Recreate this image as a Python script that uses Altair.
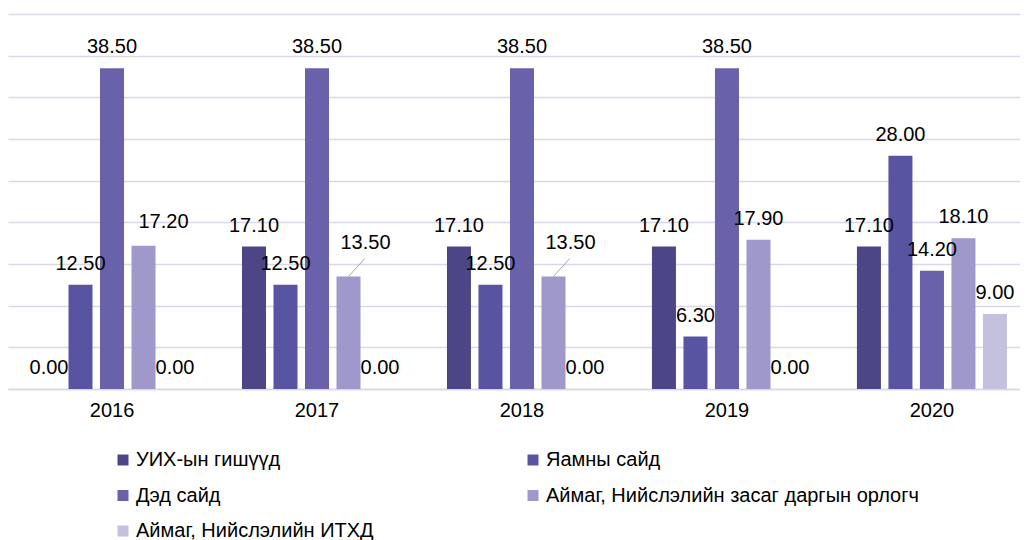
import altair as alt
import pandas as pd

years = ["2016", "2017", "2018", "2019", "2020"]
series = [
    "УИХ-ын гишүүд",
    "Яамны сайд",
    "Дэд сайд",
    "Аймаг, Нийслэлийн засаг даргын орлогч",
    "Аймаг, Нийслэлийн ИТХД",
]
colors = ["#4D4686", "#5954A2", "#6961A9", "#9E99CA", "#C3C1DE"]

v_uikh = [0.0, 17.1, 17.1, 17.1, 17.1]
v_yaam = [12.5, 12.5, 12.5, 6.3, 28.0]
v_ded = [38.5, 38.5, 38.5, 38.5, 14.2]
v_aimag_zd = [17.2, 13.5, 13.5, 17.9, 18.1]
v_aimag_itkhd = [0.0, 0.0, 0.0, 0.0, 9.0]

all_vals = [v_uikh, v_yaam, v_ded, v_aimag_zd, v_aimag_itkhd]
rows = []
for si, (name, vals) in enumerate(zip(series, all_vals)):
    for yi, (yr, v) in enumerate(zip(years, vals)):
        rows.append({"year": yr, "series": name, "s": si, "y": yi, "value": v})
df = pd.DataFrame(rows)

FONT = "Liberation Sans"

x_enc = alt.X(
    "year:N",
    sort=years,
    title=None,
    scale=alt.Scale(paddingInner=0.268, paddingOuter=0.1025, align=0.69),
    axis=alt.Axis(
        labelAngle=0,
        labelFontSize=20,
        labelFont=FONT,
        labelColor="#000000",
        labelPadding=11,
        ticks=False,
        tickSize=0,
        domain=True,
        domainColor="#D9D7E8",
        domainWidth=1.3,
        grid=False,
    ),
)
xoff_enc = alt.XOffset(
    "series:N", sort=series, scale=alt.Scale(paddingInner=0.238, paddingOuter=0)
)
y_enc = alt.Y(
    "value:Q",
    title=None,
    scale=alt.Scale(domain=[0, 45], nice=False),
    axis=alt.Axis(
        values=[0, 5, 10, 15, 20, 25, 30, 35, 40, 45],
        labels=False,
        ticks=False,
        domain=False,
        grid=True,
        gridColor="#D9D7E8",
        gridWidth=1.3,
    ),
)

base = alt.Chart(df)

bars = base.mark_bar().encode(
    x=x_enc,
    xOffset=xoff_enc,
    y=y_enc,
    color=alt.Color(
        "series:N",
        sort=series,
        scale=alt.Scale(domain=series, range=colors),
        legend=alt.Legend(
            title=None,
            orient="none",
            direction="horizontal",
            legendX=105,
            legendY=436,
            columns=2,
            columnPadding=149,
            rowPadding=15.5,
            symbolType="square",
            symbolSize=121,
            symbolStrokeWidth=0,
            labelFont=FONT,
            labelFontSize=20,
            labelColor="#000000",
            labelOffset=3,
            labelLimit=600,
            padding=0,
        ),
    ),
)

nudged_a = "(datum.s == 3 && datum.y == 0)"
nudged_b = "(datum.s == 3 && (datum.y == 1 || datum.y == 2))"

text_common = dict(fontSize=20, font=FONT, color="#000000", baseline="alphabetic")

labels = (
    base.transform_filter(f"!{nudged_a} && !{nudged_b}")
    .mark_text(dy=-15, **text_common)
    .encode(x=x_enc, xOffset=xoff_enc, y=y_enc, text=alt.Text("value:Q", format=".2f"))
)
labels_a = (
    base.transform_filter(nudged_a)
    .mark_text(dx=20, dy=-18, **text_common)
    .encode(x=x_enc, xOffset=xoff_enc, y=y_enc, text=alt.Text("value:Q", format=".2f"))
)
labels_b = (
    base.transform_filter(nudged_b)
    .mark_text(dx=17, dy=-28, **text_common)
    .encode(x=x_enc, xOffset=xoff_enc, y=y_enc, text=alt.Text("value:Q", format=".2f"))
)
leaders = (
    base.transform_filter(nudged_b)
    .mark_point(shape="M0,0 L0.9,-1", size=1296, filled=False, stroke="#A6A6A6", strokeWidth=1, opacity=1)
    .encode(x=x_enc, xOffset=xoff_enc, y=y_enc)
)

chart = (
    alt.layer(bars, leaders, labels, labels_a, labels_b)
    .properties(
        width=1012,
        height=375,
        autosize=alt.AutoSizeParams(type="none"),
        padding={"left": 0, "right": 0, "top": 6, "bottom": 160},
        background="#FFFFFF",
    )
    .configure_view(stroke=None)
)

chart.save("out.html", embed_options={"renderer": "svg", "actions": False})
